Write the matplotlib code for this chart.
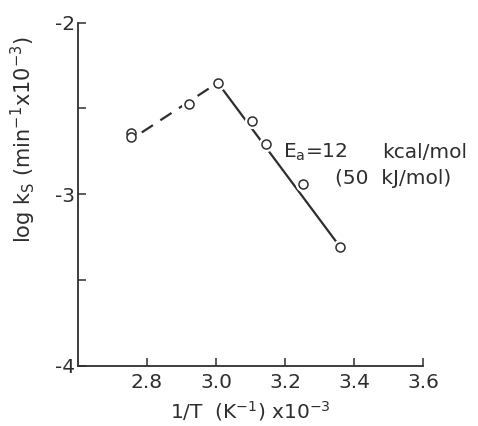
import matplotlib
matplotlib.use("Agg")
import matplotlib.pyplot as plt
from matplotlib.ticker import FixedLocator

plt.rcParams['axes.unicode_minus'] = False
plt.rcParams['font.family'] = ['DejaVu Sans']

# data
inv_T = [2.755, 2.755, 2.923, 3.005, 3.105, 3.144, 3.251, 3.359]
log_ks = [-2.641, -2.665, -2.472, -2.350, -2.575, -2.709, -2.940, -3.305]

dash_x = [2.785, 3.0]
dash_y = [-2.640, -2.357]
solid_x = [3.005, 3.359]
solid_y = [-2.350, -3.305]

xticks = [2.8, 3.0, 3.2, 3.4, 3.6]
xticklabels = ["2.8", "3.0", "3.2", "3.4", "3.6"]
yticks = [-4, -3, -2]
yticklabels = ["-4", "-3", "-2"]
yminor = [-3.5, -2.5]

C = "#2e2e2e"
FS = 14.5
fig = plt.figure(figsize=(4.78, 4.26), dpi=100)
ax = fig.add_axes([0.163, 0.141, 0.722, 0.806])
ax.set_xlim(2.6, 3.6)
ax.set_ylim(-4, -2)

ax.plot(dash_x, dash_y, color=C, lw=1.6, dashes=(6, 4), zorder=2)
ax.plot(solid_x, solid_y, color=C, lw=1.6, zorder=2)
ax.plot(inv_T, log_ks, ls='none', marker='o', ms=10, mfc='white', mec='white', zorder=3)
ax.plot(inv_T, log_ks, ls='none', marker='o', ms=6.5, mfc='white', mec=C, mew=1.1, zorder=4)

for s in ['top', 'right']:
    ax.spines[s].set_visible(False)
for s in ['left', 'bottom']:
    ax.spines[s].set_color(C)
    ax.spines[s].set_linewidth(1.3)

ax.set_xticks(xticks)
ax.set_xticklabels(xticklabels)
ax.set_yticks(yticks)
ax.set_yticklabels(yticklabels)
ax.yaxis.set_minor_locator(FixedLocator(yminor))
ax.tick_params(axis='x', direction='in', length=6, width=1.1, color=C, labelcolor=C, labelsize=FS, pad=5)
ax.tick_params(axis='y', which='major', direction='in', length=6, width=1.1, color=C, labelcolor=C, labelsize=FS, pad=2)
ax.tick_params(axis='y', which='minor', direction='in', length=6, width=1.1, color=C)

ax.set_xlabel("1/T  (K$^{-1}$) x10$^{-3}$", fontsize=FS, color=C, labelpad=5)
ax.set_ylabel("log k$_\\mathregular{S}$ (min$^{-1}$x10$^{-3}$)", fontsize=FS + 0.5, color=C)
ax.yaxis.set_label_coords(-0.115, 0.66)

fig.text(283/478, 1 - 152/426, "E$_\\mathregular{a}$=12", fontsize=FS, color=C, va='center', ha='left')
fig.text(382/478, 1 - 152/426, "kcal/mol", fontsize=FS, color=C, va='center', ha='left')
fig.text(335/478, 1 - 178/426, "(50  kJ/mol)", fontsize=FS, color=C, va='center', ha='left')

fig.savefig("out.png", dpi=100)
